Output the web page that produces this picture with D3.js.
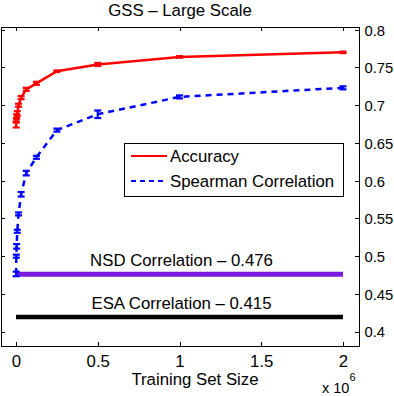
<!DOCTYPE html>
<html>
<head>
<meta charset="utf-8">
<script src="https://cdn.jsdelivr.net/npm/d3@7"></script>
<style>
html,body{margin:0;padding:0;background:#fff;}
svg{display:block;font-family:"Liberation Sans",Arial,Helvetica,sans-serif;}
</style>
</head>
<body>
<svg id="chart" width="394" height="396"></svg>
<script>
// ---- data ----
const trainingSizes = [977, 1953, 3906, 7812, 15625, 31250, 62500, 125000, 250000, 500000, 1000000, 2000000];
const accuracy      = [0.6745, 0.680, 0.685, 0.689, 0.700, 0.710, 0.721, 0.729, 0.745, 0.754, 0.764, 0.770];
const accuracyErr   = [0.004, 0.003, 0.003, 0.003, 0.002, 0.002, 0.002, 0.002, 0.001, 0.002, 0.001, 0.001];
const spearman      = [0.4765, 0.500, 0.513, 0.533, 0.556, 0.582, 0.610, 0.631, 0.667, 0.688, 0.711, 0.723];
const spearmanErr   = [0.003, 0.002, 0.003, 0.002, 0.002, 0.003, 0.003, 0.002, 0.002, 0.005, 0.002, 0.002];
const baselineNames  = ["NSD Correlation \u2013 0.476", "ESA Correlation \u2013 0.415"];
const baselineValues = [0.476, 0.4195];
const xTickValues = [0, 500000, 1000000, 1500000, 2000000];
const xTickLabels = ["0", "0.5", "1", "1.5", "2"];
const yTickValues = [0.4, 0.45, 0.5, 0.55, 0.6, 0.65, 0.7, 0.75, 0.8];
const yTickLabels = ["0.4", "0.45", "0.5", "0.55", "0.6", "0.65", "0.7", "0.75", "0.8"];
const seriesNames = ["Accuracy", "Spearman Correlation"];
const title = "GSS \u2013 Large Scale";
const xTitle = "Training Set Size";

// ---- layout ----
const L = 1, R = 359, T = 27, B = 346;
const x = d3.scaleLinear().domain([-91743, 2097859]).range([L, R]);
const y = d3.scaleLinear().domain([0.381, 0.8036]).range([B, T]);
const svg = d3.select("#chart");
const FS = 16.8;

// frame
svg.append("rect").attr("x", L).attr("y", T).attr("width", R - L).attr("height", B - T)
  .attr("fill", "none").attr("stroke", "#000").attr("stroke-width", 1).attr("shape-rendering", "crispEdges");

// axes via d3 axis (inward ticks)
const tickLen = 4;
const xBottom = d3.axisBottom(x).tickValues(xTickValues).tickFormat((d, i) => xTickLabels[i]).tickSizeInner(-tickLen).tickSizeOuter(0).tickPadding(9);
const gxb = svg.append("g").attr("transform", `translate(0,${B})`).call(xBottom);
const xTop = d3.axisTop(x).tickValues(xTickValues).tickFormat("").tickSizeInner(-tickLen).tickSizeOuter(0);
const gxt = svg.append("g").attr("transform", `translate(0,${T})`).call(xTop);
const yRight = d3.axisRight(y).tickValues(yTickValues).tickFormat((d, i) => yTickLabels[i]).tickSizeInner(-tickLen).tickSizeOuter(0).tickPadding(5.5);
const gyr = svg.append("g").attr("transform", `translate(${R},0)`).call(yRight);
const yLeft = d3.axisLeft(y).tickValues(yTickValues).tickFormat("").tickSizeInner(-tickLen).tickSizeOuter(0);
const gyl = svg.append("g").attr("transform", `translate(${L},0)`).call(yLeft);
[gxb, gxt, gyr, gyl].forEach(g => {
  g.select(".domain").remove();
  g.selectAll("line").attr("stroke", "#000").attr("shape-rendering", "crispEdges");
  g.selectAll("text").attr("font-size", FS).attr("fill", "#000").attr("font-family", null);
});
gyr.selectAll("text").attr("dy", "0.36em").attr("font-size", 14.8);

// baselines
const bColors = ["#7b1be0", "#000000"];
const bWidths = [5, 4.5];
baselineValues.forEach((v, i) => {
  svg.append("line").attr("x1", x(0)).attr("x2", x(2000000)).attr("y1", y(v)).attr("y2", y(v))
    .attr("stroke", bColors[i]).attr("stroke-width", bWidths[i]);
  svg.append("text").attr("x", x(1000000) + 2).attr("y", y(v) - 8).attr("text-anchor", "middle")
    .attr("font-size", FS).text(baselineNames[i]);
});

// series
function drawSeries(vals, errs, color, dash) {
  const pts = trainingSizes.map((s, i) => [x(s), y(vals[i])]);
  svg.append("path").attr("d", d3.line()(pts)).attr("fill", "none").attr("stroke", color)
    .attr("stroke-width", 2.5).attr("stroke-dasharray", dash || null);
  const g = svg.append("g").attr("stroke", color).attr("stroke-width", 2.2);
  trainingSizes.forEach((s, i) => {
    const cx = x(s), y1 = y(vals[i] - errs[i]), y2 = y(vals[i] + errs[i]);
    g.append("line").attr("x1", cx).attr("x2", cx).attr("y1", y1).attr("y2", y2);
    g.append("line").attr("x1", cx - 3.5).attr("x2", cx + 3.5).attr("y1", y1).attr("y2", y1);
    g.append("line").attr("x1", cx - 3.5).attr("x2", cx + 3.5).attr("y1", y2).attr("y2", y2);
  });
}
drawSeries(accuracy, accuracyErr, "#ff0000", null);
drawSeries(spearman, spearmanErr, "#0000ff", "6,5");

// legend
const lg = svg.append("g");
lg.append("rect").attr("x", 124.5).attr("y", 143.5).attr("width", 219).attr("height", 53)
  .attr("fill", "#fff").attr("stroke", "#000").attr("stroke-width", 1);
const legColors = ["#ff0000", "#0000ff"];
const legDash = [null, "5,4"];
seriesNames.forEach((n, i) => {
  const yy = 156 + i * 25;
  lg.append("line").attr("x1", 131).attr("x2", 167).attr("y1", yy).attr("y2", yy)
    .attr("stroke", legColors[i]).attr("stroke-width", 2.2).attr("stroke-dasharray", legDash[i]);
  lg.append("text").attr("x", 170).attr("y", yy + 6).attr("font-size", FS).text(n);
});

// titles
svg.append("text").attr("x", 180).attr("y", 16).attr("text-anchor", "middle").attr("font-size", FS).text(title);
svg.append("text").attr("x", 195).attr("y", 385).attr("text-anchor", "middle").attr("font-size", FS).text(xTitle);
const ex = svg.append("text").attr("x", 322).attr("y", 393).attr("font-size", 14.5);
ex.append("tspan").text("x 10");
ex.append("tspan").attr("dy", -12).attr("font-size", 11).text("6");
</script>
</body>
</html>
